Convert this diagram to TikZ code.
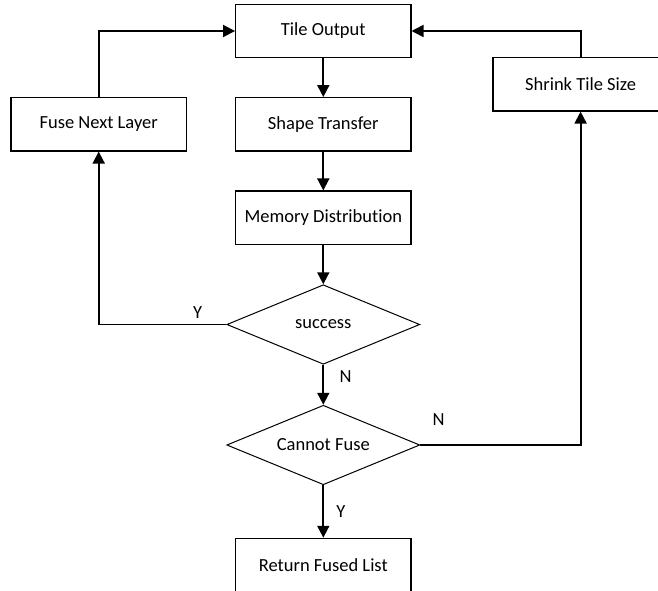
\documentclass[tikz,border=0pt]{standalone}
\usepackage{fontspec}
\setmainfont{Carlito}[Ligatures={NoCommon}]
\usetikzlibrary{arrows.meta,shapes.geometric}
\begin{document}
\begin{tikzpicture}[x=1pt,y=-1pt,
  font=\fontsize{18.5}{22}\selectfont,
  box/.style={draw,rectangle,line width=1.2pt,minimum width=175.3pt,minimum height=53.3pt,inner sep=0pt},
  dec/.style={draw,diamond,line width=1pt,minimum width=193pt,minimum height=79.5pt,inner sep=0pt,aspect=2.4},
  conn/.style={line width=1.8pt,-{Triangle[length=12pt,width=12pt]}},
  lbl/.style={inner sep=0pt}]
\useasboundingbox (0,0) rectangle (658,591);
\clip (0,0) rectangle (658,591);
\node[box] (tile) at (323.3,31) {Tile Output};
\node[box] (shape) at (323.3,124.3) {Shape Transfer};
\node[box] (mem) at (323.3,217.7) {Memory Distribution};
\node[box] (fuse) at (98.7,124.3) {Fuse Next Layer};
\node[box] (shrink) at (580.6,84.3) {Shrink Tile Size};
\node[box] (ret) at (323.3,565) {Return Fused List};
\node[dec] (succ) at (323.3,324.5) {success};
\node[dec] (cf) at (323.3,445) {Cannot Fuse};
\draw[conn] (tile.south) -- (shape.north);
\draw[conn] (shape.south) -- (mem.north);
\draw[conn] (mem.south) -- (succ.north);
\draw[conn] (succ.south) -- (cf.north);
\draw[conn] (cf.south) -- (ret.north);
\draw[conn] (succ.west) -| (fuse.south);
\draw[conn] (fuse.north) |- (tile.west);
\draw[conn] (cf.east) -| (shrink.south);
\draw[conn] (shrink.north) |- (tile.east);
\node[lbl] (ly1) at (197.7,312.3) {Y};
\node[lbl] (ln1) at (345.7,376.7) {N};
\node[lbl] (ln2) at (438.7,419.3) {N};
\node[lbl] (ly2) at (341,511.7) {Y};
\end{tikzpicture}
\end{document}
